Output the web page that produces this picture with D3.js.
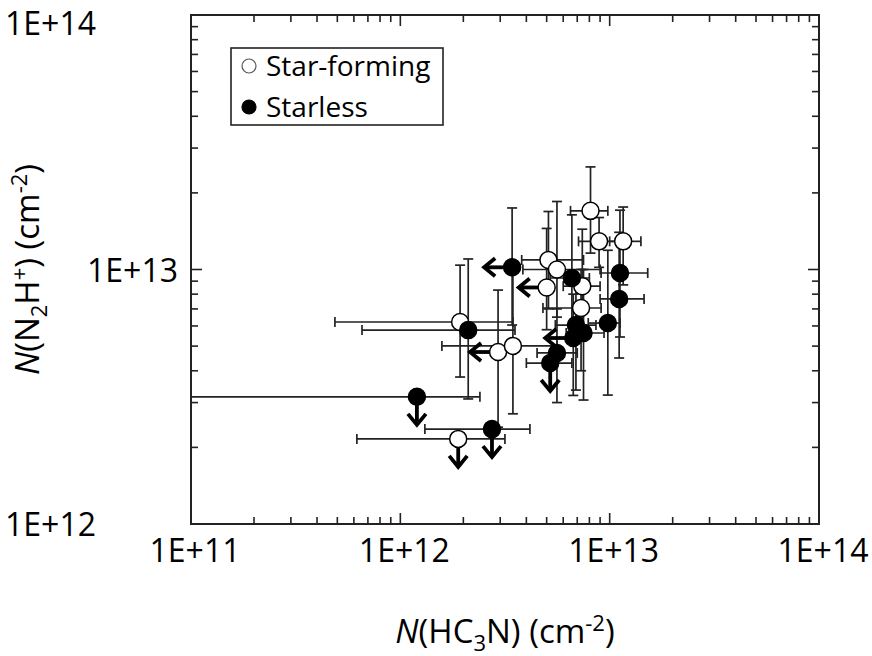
<!DOCTYPE html>
<html>
<head>
<meta charset="utf-8">
<script src="https://cdn.jsdelivr.net/npm/d3@7"></script>
<style>
  body { margin: 0; background: #fff; }
  text { font-family: 'Open Sans', sans-serif; fill: #000; }
</style>
</head>
<body>
<div id="chart"></div>
<script>
// star-forming clumps (open circles)
var sfX = [8.1e12, 8.9e12, 1.16e13, 5.1e12, 5.6e12, 5.0e12, 7.4e12, 7.3e12, 1.93e12, 2.93e12, 3.45e12, 1.89e12]
var sfY = [1.70e13, 1.29e13, 1.29e13, 1.09e13, 1.00e13, 8.5e12, 8.6e12, 7.06e12, 6.22e12, 4.74e12, 5.01e12, 2.16e12]
var sfXLo = [6.5e12, 7.1e12, 1.0e13, 3.8e12, 3.85e12, 5.0e12, 6.0e12, 4.8e12, 4.87e11, 2.93e12, 1.58e12, 6.2e11]
var sfXHi = [9.8e12, 1.1e13, 1.41e13, 7.5e12, 9.0e12, 5.0e12, 9.0e12, 9.1e12, 3.45e12, 2.93e12, 5.6e12, 3.16e12]
var sfYLo = [1.16e13, 1.02e13, 8.7e12, 7.0e12, 6.5e12, 5.8e12, 5.5e12, 4.0e12, 3.78e12, 2.40e12, 2.71e12, 2.16e12]
var sfYHi = [2.53e13, 1.6e13, 1.76e13, 1.69e13, 1.85e13, 1.45e13, 1.44e13, 1.0e13, 1.04e13, 8.3e12, 1.0e13, 2.16e12]
var sfLimit = ['', '', '', '', '', 'x', '', '', '', 'x', '', 'y']

// starless clumps (filled circles)
var slX = [3.42e12, 6.6e12, 1.12e13, 1.11e13, 9.8e12, 6.9e12, 7.5e12, 6.7e12, 5.6e12, 5.2e12, 2.11e12, 1.20e12, 2.74e12]
var slY = [1.02e13, 9.26e12, 9.69e12, 7.66e12, 6.16e12, 6.05e12, 5.63e12, 5.38e12, 4.70e12, 4.29e12, 5.78e12, 3.16e12, 2.36e12]
var slXLo = [3.42e12, 5.2e12, 9.1e12, 9.0e12, 7.9e12, 5.5e12, 6.2e12, 6.7e12, 4.5e12, 4.0e12, 6.56e11, 5e10, 1.31e12]
var slXHi = [3.42e12, 8.0e12, 1.52e13, 1.46e13, 1.12e13, 8.6e12, 9.4e12, 6.7e12, 7.0e12, 6.6e12, 3.53e12, 2.4e12, 4.16e12]
var slYLo = [6.05e12, 5.5e12, 5.43e12, 4.49e12, 3.21e12, 3.36e12, 3.07e12, 3.2e12, 3.0e12, 4.29e12, 3.10e12, 3.16e12, 2.36e12]
var slYHi = [1.745e13, 1.64e13, 1.71e13, 1.4e13, 1.19e13, 9.5e12, 1.0e13, 8.0e12, 7.0e12, 4.29e12, 1.10e13, 3.16e12, 2.36e12]
var slLimit = ['x', '', '', '', '', '', '', 'x', '', 'y', '', 'y', 'y']

var xTickLabels = ['1E+11', '1E+12', '1E+13', '1E+14']
var yTickLabels = ['1E+12', '1E+13', '1E+14']
var legendLabels = ['Star-forming', 'Starless']

var width = 872, height = 656
var plotL = 191, plotR = 819, plotT = 15, plotB = 524

var x = d3.scaleLog().domain([1e11, 1e14]).range([plotL, plotR])
var y = d3.scaleLog().domain([1e12, 1e14]).range([plotB, plotT])

var svg = d3.select('#chart').append('svg')
  .attr('width', width)
  .attr('height', height)

svg.append('defs').append('clipPath').attr('id', 'plotclip')
  .append('rect')
  .attr('x', plotL).attr('y', plotT)
  .attr('width', plotR - plotL).attr('height', plotB - plotT)

// ticks on all four sides, pointing inward
function tickList(domain) {
  var out = []
  for (var e = Math.round(Math.log10(domain[0])); e < Math.round(Math.log10(domain[1])); e++) {
    for (var m = 1; m < 10; m++) out.push({ v: m * Math.pow(10, e), major: m === 1 })
  }
  out.push({ v: domain[1], major: true })
  return out
}

var ticks = svg.append('g').attr('stroke', '#222').attr('stroke-width', 1.6)
tickList(x.domain()).forEach(function (t) {
  var len = t.major ? 11 : 7
  ticks.append('line').attr('x1', x(t.v)).attr('x2', x(t.v)).attr('y1', plotB).attr('y2', plotB - len)
  ticks.append('line').attr('x1', x(t.v)).attr('x2', x(t.v)).attr('y1', plotT).attr('y2', plotT + len)
})
tickList(y.domain()).forEach(function (t) {
  var len = t.major ? 11 : 7
  ticks.append('line').attr('y1', y(t.v)).attr('y2', y(t.v)).attr('x1', plotL).attr('x2', plotL + len)
  ticks.append('line').attr('y1', y(t.v)).attr('y2', y(t.v)).attr('x1', plotR).attr('x2', plotR - len)
})

svg.append('rect')
  .attr('x', plotL).attr('y', plotT)
  .attr('width', plotR - plotL).attr('height', plotB - plotT)
  .attr('fill', 'none').attr('stroke', '#222').attr('stroke-width', 2)

// tick labels
svg.selectAll('.xlab').data(xTickLabels).enter().append('text')
  .attr('x', function (d) { return x(+d) + 4 })
  .attr('y', 562)
  .attr('text-anchor', 'middle')
  .style('font-size', '32px')
  .text(function (d) { return d })

var yLabX = { '1E+12': 96, '1E+13': 178, '1E+14': 96 }
svg.selectAll('.ylab').data(yTickLabels).enter().append('text')
  .attr('x', function (d) { return yLabX[d] })
  .attr('y', function (d) { return Math.max(y(+d) + 12, 35) })
  .attr('text-anchor', 'end')
  .style('font-size', '32px')
  .text(function (d) { return d })

// axis titles
var xt = svg.append('text')
  .attr('x', (plotL + plotR) / 2).attr('y', 643)
  .attr('text-anchor', 'middle')
  .style('font-size', '33px')
xt.append('tspan').style('font-style', 'italic').text('N')
xt.append('tspan').text('(HC')
xt.append('tspan').attr('dy', 8).style('font-size', '22px').text('3')
xt.append('tspan').attr('dy', -8).text('N) (cm')
xt.append('tspan').attr('dy', -12).style('font-size', '22px').text('-2')
xt.append('tspan').attr('dy', 12).text(')')

var yt = svg.append('text')
  .attr('transform', 'translate(39,' + (plotT + plotB) / 2 + ') rotate(-90)')
  .attr('text-anchor', 'middle')
  .style('font-size', '33px')
yt.append('tspan').style('font-style', 'italic').text('N')
yt.append('tspan').text('(N')
yt.append('tspan').attr('dy', 8).style('font-size', '22px').text('2')
yt.append('tspan').attr('dy', -8).text('H')
yt.append('tspan').attr('dy', -12).style('font-size', '22px').text('+')
yt.append('tspan').attr('dy', 12).text(') (cm')
yt.append('tspan').attr('dy', -12).style('font-size', '22px').text('-2')
yt.append('tspan').attr('dy', 12).text(')')

// build point lists
function series(xs, ys, xlo, xhi, ylo, yhi, lim, open) {
  return xs.map(function (v, i) {
    return { x: v, y: ys[i], xlo: xlo[i], xhi: xhi[i], ylo: ylo[i], yhi: yhi[i], lim: lim[i], open: open }
  })
}
var starForming = series(sfX, sfY, sfXLo, sfXHi, sfYLo, sfYHi, sfLimit, true)
var starless = series(slX, slY, slXLo, slXHi, slYLo, slYHi, slLimit, false)
var all = starForming.concat(starless)

var plot = svg.append('g').attr('clip-path', 'url(#plotclip)')
var cap = 5

// error bars
var bars = plot.append('g').attr('stroke', '#222').attr('stroke-width', 1.7).attr('fill', 'none')
all.forEach(function (d) {
  var cx = x(d.x), cy = y(d.y)
  if (d.xlo !== d.xhi) {
    bars.append('line').attr('x1', x(d.xlo)).attr('x2', x(d.xhi)).attr('y1', cy).attr('y2', cy)
    bars.append('line').attr('x1', x(d.xlo)).attr('x2', x(d.xlo)).attr('y1', cy - cap).attr('y2', cy + cap)
    bars.append('line').attr('x1', x(d.xhi)).attr('x2', x(d.xhi)).attr('y1', cy - cap).attr('y2', cy + cap)
  }
  if (d.ylo !== d.yhi) {
    bars.append('line').attr('x1', cx).attr('x2', cx).attr('y1', y(d.ylo)).attr('y2', y(d.yhi))
    bars.append('line').attr('x1', cx - cap).attr('x2', cx + cap).attr('y1', y(d.ylo)).attr('y2', y(d.ylo))
    bars.append('line').attr('x1', cx - cap).attr('x2', cx + cap).attr('y1', y(d.yhi)).attr('y2', y(d.yhi))
  }
})

// upper-limit arrows
var arrows = plot.append('g').attr('stroke', '#000').attr('stroke-width', 3.8).attr('fill', 'none')
all.filter(function (d) { return d.lim }).forEach(function (d) {
  var cx = x(d.x), cy = y(d.y), L = 28, h = 9
  if (d.lim === 'y') {
    arrows.append('line').attr('x1', cx).attr('x2', cx).attr('y1', cy).attr('y2', cy + L - 1)
    arrows.append('polyline').attr('points', [[cx - h, cy + L - 11], [cx, cy + L], [cx + h, cy + L - 11]].join(' '))
  } else {
    arrows.append('line').attr('x1', cx).attr('x2', cx - L + 1).attr('y1', cy).attr('y2', cy)
    arrows.append('polyline').attr('points', [[cx - L + 11, cy - h], [cx - L, cy], [cx - L + 11, cy + h]].join(' '))
  }
})

// markers
plot.append('g').selectAll('circle').data(all).enter().append('circle')
  .attr('cx', function (d) { return x(d.x) })
  .attr('cy', function (d) { return y(d.y) })
  .attr('r', 8.5)
  .attr('fill', function (d) { return d.open ? '#fff' : '#000' })
  .attr('stroke', '#000')
  .attr('stroke-width', 1.5)

// legend
var lg = svg.append('g')
lg.append('rect')
  .attr('x', 231).attr('y', 48).attr('width', 212).attr('height', 77)
  .attr('fill', '#fff').attr('stroke', '#222').attr('stroke-width', 1.6)
legendLabels.forEach(function (name, i) {
  var ly = 66 + i * 41
  lg.append('circle').attr('cx', 249).attr('cy', ly).attr('r', 7)
    .attr('fill', i === 0 ? '#fff' : '#000').attr('stroke', i === 0 ? '#555' : '#000').attr('stroke-width', 1.2)
  lg.append('text').attr('x', 266).attr('y', ly + 10)
    .style('font-size', '28px')
    .text(name)
})
</script>
</body>
</html>
